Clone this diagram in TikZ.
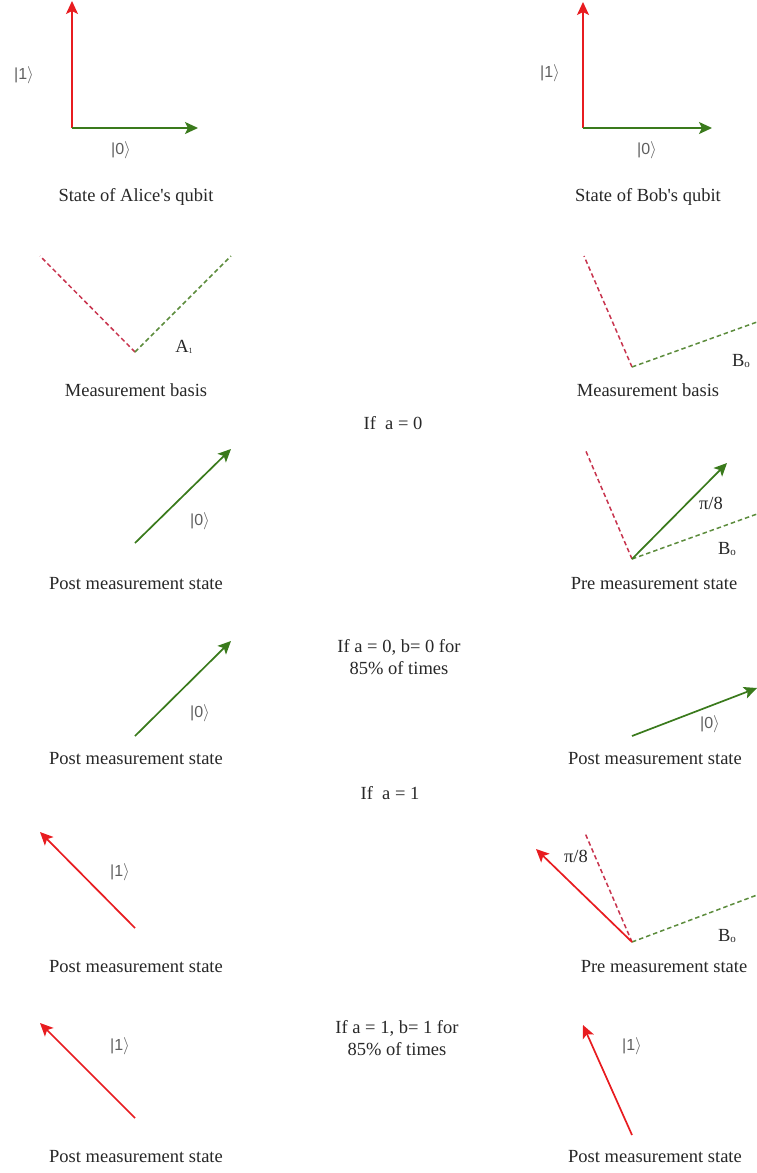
\documentclass[tikz,border=0pt]{standalone}
\usepackage{fontspec}
\setmainfont{Liberation Serif}
\newfontfamily\ketfont{Liberation Sans}
\usetikzlibrary{arrows.meta}
\definecolor{vred}{RGB}{232,28,32}
\definecolor{vgreen}{RGB}{58,122,28}
\definecolor{bred}{RGB}{200,52,78}
\definecolor{bgreen}{RGB}{92,140,60}
\definecolor{txt}{RGB}{40,40,40}
\definecolor{ketc}{RGB}{95,95,95}
\begin{document}
\begin{tikzpicture}[x=1pt,y=-1pt,
  vec/.style={line width=1.7pt,-{Stealth[length=13pt,width=12pt,inset=3pt]}},
  redvec/.style={vec,draw=vred},
  greenvec/.style={vec,draw=vgreen},
  rbasis/.style={draw=bred,line width=1.5pt,dash pattern=on 4.5pt off 3pt},
  gbasis/.style={draw=bgreen,line width=1.5pt,dash pattern=on 4.5pt off 3pt},
  captxt/.style={font=\fontsize{18.5}{22}\selectfont,text=txt,inner sep=0pt,align=center},
  ket/.style={font=\ketfont\fontsize{16}{18}\selectfont,text=ketc,inner sep=0pt},
  sym/.style={font=\fontsize{18.5}{20}\selectfont,text=txt,inner sep=0pt}
]
\useasboundingbox (0,0) rectangle (757,1173);
\fill[white] (0,0) rectangle (757,1173);

% ---------- Row 1: states ----------
\coordinate (o1) at (72,128);
\coordinate (o1u) at (72,1);
\coordinate (o1r) at (198,128);
\draw[redvec] (o1) -- (o1u);
\draw[greenvec] (o1) -- (o1r);
\node[ket] (k1a) at (24,75) {|1$\rangle$};
\node[ket] (k0a) at (121,150) {|0$\rangle$};
\node[captxt] (c1) at (136,197) {State of Alice\textquotesingle s qubit};

\coordinate (o2) at (583,128);
\coordinate (o2u) at (583,2);
\coordinate (o2r) at (712,128);
\draw[redvec] (o2) -- (o2u);
\draw[greenvec] (o2) -- (o2r);
\node[ket] (k1b) at (550,73) {|1$\rangle$};
\node[ket] (k0b) at (647,150) {|0$\rangle$};
\node[captxt] (c2) at (648,197) {State of Bob\textquotesingle s qubit};

% ---------- Row 2: measurement bases ----------
\coordinate (v3) at (135,352);
\coordinate (v3r) at (40,256);
\coordinate (v3g) at (231,256);
\draw[rbasis] (v3) -- (v3r);
\draw[gbasis] (v3) -- (v3g);
\node[sym] (a1) at (184,347) {A\raisebox{-0.5pt}{\fontsize{8}{9}\selectfont 1}};
\node[captxt] (c3) at (136,390) {Measurement basis};

\coordinate (v4) at (632,367);
\coordinate (v4r) at (584,256);
\coordinate (v4g) at (757,322);
\draw[rbasis] (v4) -- (v4r);
\draw[gbasis] (v4) -- (v4g);
\node[sym] (b0a) at (741,361) {B\raisebox{-1pt}{\fontsize{11}{12}\selectfont o}};
\node[captxt] (c4) at (648,390) {Measurement basis};

\node[captxt] (if0) at (393,423) {If\ \ a = 0};

% ---------- Row 3 ----------
\coordinate (s5) at (135,543);
\coordinate (e5) at (231,449);
\draw[greenvec] (s5) -- (e5);
\node[ket] (k5) at (200,521) {|0$\rangle$};
\node[captxt] (c5) at (136,584) {Post measurement state};

\coordinate (v6) at (632,559);
\coordinate (v6r) at (585,449);
\coordinate (v6g) at (757,514);
\coordinate (e6) at (727,463);
\draw[rbasis] (v6) -- (v6r);
\draw[gbasis] (v6) -- (v6g);
\draw[greenvec] (v6) -- (e6);
\node[sym] (pi6) at (711,503) {π/8};
\node[sym] (b0b) at (727,549) {B\raisebox{-1pt}{\fontsize{11}{12}\selectfont o}};
\node[captxt] (c6) at (654,584) {Pre measurement state};

\node[captxt] (if00) at (399,657) {If a = 0, b= 0 for\\85\% of times};

% ---------- Row 4 ----------
\coordinate (s7) at (135,736);
\coordinate (e7) at (231,641);
\draw[greenvec] (s7) -- (e7);
\node[ket] (k7) at (200,713) {|0$\rangle$};
\node[captxt] (c7) at (136,759) {Post measurement state};

\coordinate (s8) at (632,736);
\coordinate (e8) at (757,688);
\draw[greenvec] (s8) -- (e8);
\node[ket] (k8) at (710,724) {|0$\rangle$};
\node[captxt] (c8) at (655,759) {Post measurement state};

\node[captxt] (if1) at (390,793) {If\ \ a = 1};

% ---------- Row 5 ----------
\coordinate (s9) at (135,928);
\coordinate (e9) at (40,832);
\draw[redvec] (s9) -- (e9);
\node[ket] (k9) at (120,872) {|1$\rangle$};
\node[captxt] (c9) at (136,967) {Post measurement state};

\coordinate (v10) at (632,942);
\coordinate (v10r) at (585,833);
\coordinate (v10g) at (757,895);
\coordinate (e10) at (536,849);
\draw[rbasis] (v10) -- (v10r);
\draw[gbasis] (v10) -- (v10g);
\draw[redvec] (v10) -- (e10);
\node[sym] (pi10) at (576,856) {π/8};
\node[sym] (b0c) at (727,936) {B\raisebox{-1pt}{\fontsize{11}{12}\selectfont o}};
\node[captxt] (c10) at (664,967) {Pre measurement state};

\node[captxt] (if11) at (397,1038) {If a = 1, b= 1 for\\85\% of times};

% ---------- Row 6 ----------
\coordinate (s11) at (135,1118);
\coordinate (e11) at (40,1023);
\draw[redvec] (s11) -- (e11);
\node[ket] (k11) at (120,1046) {|1$\rangle$};
\node[captxt] (c11) at (136,1157) {Post measurement state};

\coordinate (s12) at (632,1135);
\coordinate (e12) at (583,1025);
\draw[redvec] (s12) -- (e12);
\node[ket] (k12) at (632,1046) {|1$\rangle$};
\node[captxt] (c12) at (655,1157) {Post measurement state};
\end{tikzpicture}
\end{document}
